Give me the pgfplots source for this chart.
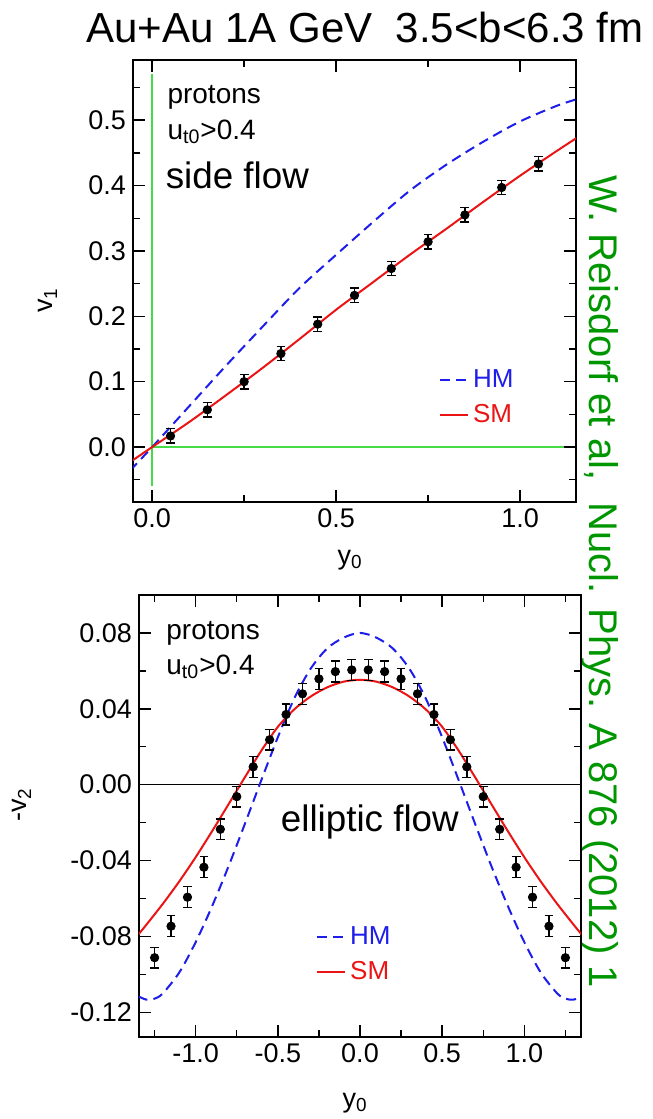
\documentclass[border=0pt]{standalone}
\usepackage{pgfplots}
\pgfplotsset{compat=1.18}
\usepackage{fontspec}
\setmainfont{Liberation Sans}
\definecolor{hmblue}{RGB}{30,30,235}
\definecolor{smred}{RGB}{235,20,20}
\definecolor{lgreen}{RGB}{70,220,70}
\definecolor{dgreen}{RGB}{0,150,0}
\pgfplotsset{
 myaxis/.style={
  scale only axis,
  axis line style={line width=0.8pt},
  tick align=inside,
  major tick length=6pt,
  minor tick length=3.5pt,
  every tick/.style={line width=0.7pt, black},
  ticklabel style={font=\fontsize{13.5}{16}\selectfont},
  /pgf/number format/assume math mode=true,
  label style={font=\fontsize{13.5}{16}\selectfont},
  legend style={draw=none, fill=none, font=\fontsize{13}{15}\selectfont, row sep=3pt, inner sep=0pt},
  legend cell align=left,
  legend image code/.code={\draw[#1] (0pt,0pt) -- (14pt,0pt);},
 },
 pts/.style={only marks, mark=*, mark size=2.1pt, black, forget plot,
   error bars/.cd, y dir=both, y explicit,
   error bar style={line width=0.7pt, black},
   error mark options={rotate=90, mark size=2.2pt, line width=0.7pt, black}},
 hm/.style={hmblue, line width=1pt, dash pattern=on 5pt off 3pt, smooth},
 sm/.style={smred, line width=1pt, smooth},
}
\begin{document}
\begin{tikzpicture}
\useasboundingbox (0,0) rectangle (326.5pt,559.5pt);
\node[font=\fontsize{21}{25}\selectfont] at (182.5pt,545.5pt) {Au+Au 1A GeV\ \ 3.5<b<6.3 fm};
\node[rotate=-90, text=dgreen, font=\fontsize{20}{24}\selectfont] at (300pt,268.5pt) {W. Reisdorf et al,\ \ Nucl. Phys. A 876 (2012) 1};
% ---------------- top panel
\begin{axis}[myaxis, at={(66.5pt,308.5pt)}, anchor=south west,
  width=221.5pt, height=221pt,
  xmin=-0.052, xmax=1.152, ymin=-0.084, ymax=0.592,
  xtick={0,0.5,1}, xticklabels={0.0,0.5,1.0},
  minor xtick={0.25,0.75},
  ytick={0,0.1,0.2,0.3,0.4,0.5}, yticklabels={0.0,0.1,0.2,0.3,0.4,0.5},
  minor ytick={-0.05,0.05,0.15,0.25,0.35,0.45,0.55},
  xlabel={y\textsubscript{0}}, ylabel={v\textsubscript{1}},
  xlabel style={at={(axis description cs:0.49,-0.131)}, anchor=center},
  ylabel style={at={(axis description cs:-0.192,0.457)}, anchor=center},
  legend style={at={(rel axis cs:0.69,0.31)}, anchor=north west},
]
\addplot[lgreen, line width=1pt, forget plot] coordinates {(0,-0.06) (0,0.57)};
\addplot[lgreen, line width=1pt, forget plot] coordinates {(0,0) (1.12,0)};
\addplot[hm] coordinates {(-0.06,-0.036) (0,0) (0.1,0.062) (0.2,0.124) (0.3,0.184) (0.4,0.243) (0.5,0.294) (0.6,0.344) (0.7,0.392) (0.8,0.432) (0.9,0.467) (1.0,0.498) (1.1,0.522) (1.16,0.533)};
\addlegendentry{\textcolor{hmblue}{HM}}
\addplot[sm] coordinates {(-0.06,-0.023) (0,0) (0.1,0.038) (0.2,0.079) (0.3,0.121) (0.4,0.165) (0.5,0.210) (0.6,0.252) (0.7,0.294) (0.8,0.334) (0.9,0.375) (1.0,0.415) (1.1,0.453) (1.16,0.475)};
\addlegendentry{\textcolor{smred}{SM}}
\addplot[pts] table[x=x, y=y, y error=e] {
x y e
0.05 0.017 0.011
0.15 0.057 0.011
0.25 0.100 0.011
0.35 0.143 0.011
0.45 0.188 0.011
0.55 0.232 0.011
0.65 0.273 0.011
0.75 0.314 0.011
0.85 0.355 0.011
0.95 0.397 0.011
1.05 0.433 0.011
};
\node[anchor=west, font=\fontsize{14}{16}\selectfont] at (rel axis cs:0.062,0.916) {protons};
\node[anchor=west, font=\fontsize{14}{16}\selectfont] at (rel axis cs:0.062,0.837) {u\textsubscript{t0}>0.4};
\node[anchor=west, font=\fontsize{18.4}{21}\selectfont] at (rel axis cs:0.058,0.738) {side flow};
\end{axis}
% ---------------- bottom panel
\begin{axis}[myaxis, at={(69.5pt,41pt)}, anchor=south west,
  width=221pt, height=221pt,
  xmin=-1.345, xmax=1.345, ymin=-0.133, ymax=0.100,
  xtick={-1,-0.5,0,0.5,1}, xticklabels={-1.0,-0.5,0.0,0.5,1.0},
  minor xtick={-1.25,-0.75,-0.25,0.25,0.75,1.25},
  ytick={-0.12,-0.08,-0.04,0,0.04,0.08}, yticklabels={-0.12,-0.08,-0.04,0.00,0.04,0.08},
  minor ytick={-0.1,-0.06,-0.02,0.02,0.06},
  xlabel={y\textsubscript{0}}, ylabel={-v\textsubscript{2}},
  xlabel style={at={(axis description cs:0.489,-0.149)}, anchor=center},
  ylabel style={at={(axis description cs:-0.265,0.525)}, anchor=center},
  legend style={at={(rel axis cs:0.40,0.26)}, anchor=north west},
]
\addplot[black, line width=0.6pt, forget plot] coordinates {(-1.345,0) (1.345,0)};
\addplot[hm] coordinates {(-1.35,-0.1115) (-1.3,-0.1133) (-1.25,-0.1128) (-1.2,-0.1100) (-1.1,-0.0990) (-1.0,-0.0830) (-0.9,-0.0640) (-0.8,-0.0430) (-0.7,-0.0205) (-0.6,0.0025) (-0.5,0.0250) (-0.4,0.0455) (-0.3,0.0612) (-0.2,0.0718) (-0.1,0.0775) (0,0.0800) (0.1,0.0775) (0.2,0.0718) (0.3,0.0612) (0.4,0.0455) (0.5,0.0250) (0.6,0.0025) (0.7,-0.0205) (0.8,-0.0430) (0.9,-0.0640) (1.0,-0.0830) (1.1,-0.0990) (1.2,-0.1100) (1.25,-0.1128) (1.3,-0.1133) (1.35,-0.1115)};
\addlegendentry{\textcolor{hmblue}{HM}}
\addplot[sm] coordinates {(-1.35,-0.0791) (-1.3,-0.0738) (-1.2,-0.0628) (-1.1,-0.0510) (-1.0,-0.0382) (-0.9,-0.0245) (-0.8,-0.0103) (-0.7,0.0040) (-0.6,0.0180) (-0.5,0.0305) (-0.4,0.0397) (-0.3,0.0465) (-0.2,0.0513) (-0.1,0.0543) (0,0.0553) (0.1,0.0543) (0.2,0.0513) (0.3,0.0465) (0.4,0.0397) (0.5,0.0305) (0.6,0.0180) (0.7,0.0040) (0.8,-0.0103) (0.9,-0.0245) (1.0,-0.0382) (1.1,-0.0510) (1.2,-0.0628) (1.3,-0.0738) (1.35,-0.0791)};
\addlegendentry{\textcolor{smred}{SM}}
\addplot[pts] table[x=x, y=y, y error=e] {
x y e
-1.25 -0.0912 0.0055
-1.15 -0.0746 0.0055
-1.05 -0.0593 0.0055
-0.95 -0.0435 0.0055
-0.85 -0.0235 0.0055
-0.75 -0.0063 0.0055
-0.65 0.0094 0.0055
-0.55 0.0237 0.0055
-0.45 0.0370 0.0055
-0.35 0.0479 0.0055
-0.25 0.0558 0.0055
-0.15 0.0596 0.0055
-0.05 0.0605 0.0055
0.05 0.0605 0.0055
0.15 0.0596 0.0055
0.25 0.0558 0.0055
0.35 0.0479 0.0055
0.45 0.0370 0.0055
0.55 0.0237 0.0055
0.65 0.0094 0.0055
0.75 -0.0063 0.0055
0.85 -0.0235 0.0055
0.95 -0.0435 0.0055
1.05 -0.0593 0.0055
1.15 -0.0746 0.0055
1.25 -0.0912 0.0055
};
\node[anchor=west, font=\fontsize{14}{16}\selectfont] at (rel axis cs:0.046,0.914) {protons};
\node[anchor=west, font=\fontsize{14}{16}\selectfont] at (rel axis cs:0.046,0.837) {u\textsubscript{t0}>0.4};
\node[anchor=west, font=\fontsize{18.4}{21}\selectfont] at (rel axis cs:0.305,0.486) {elliptic flow};
\end{axis}
\end{tikzpicture}
\end{document}
